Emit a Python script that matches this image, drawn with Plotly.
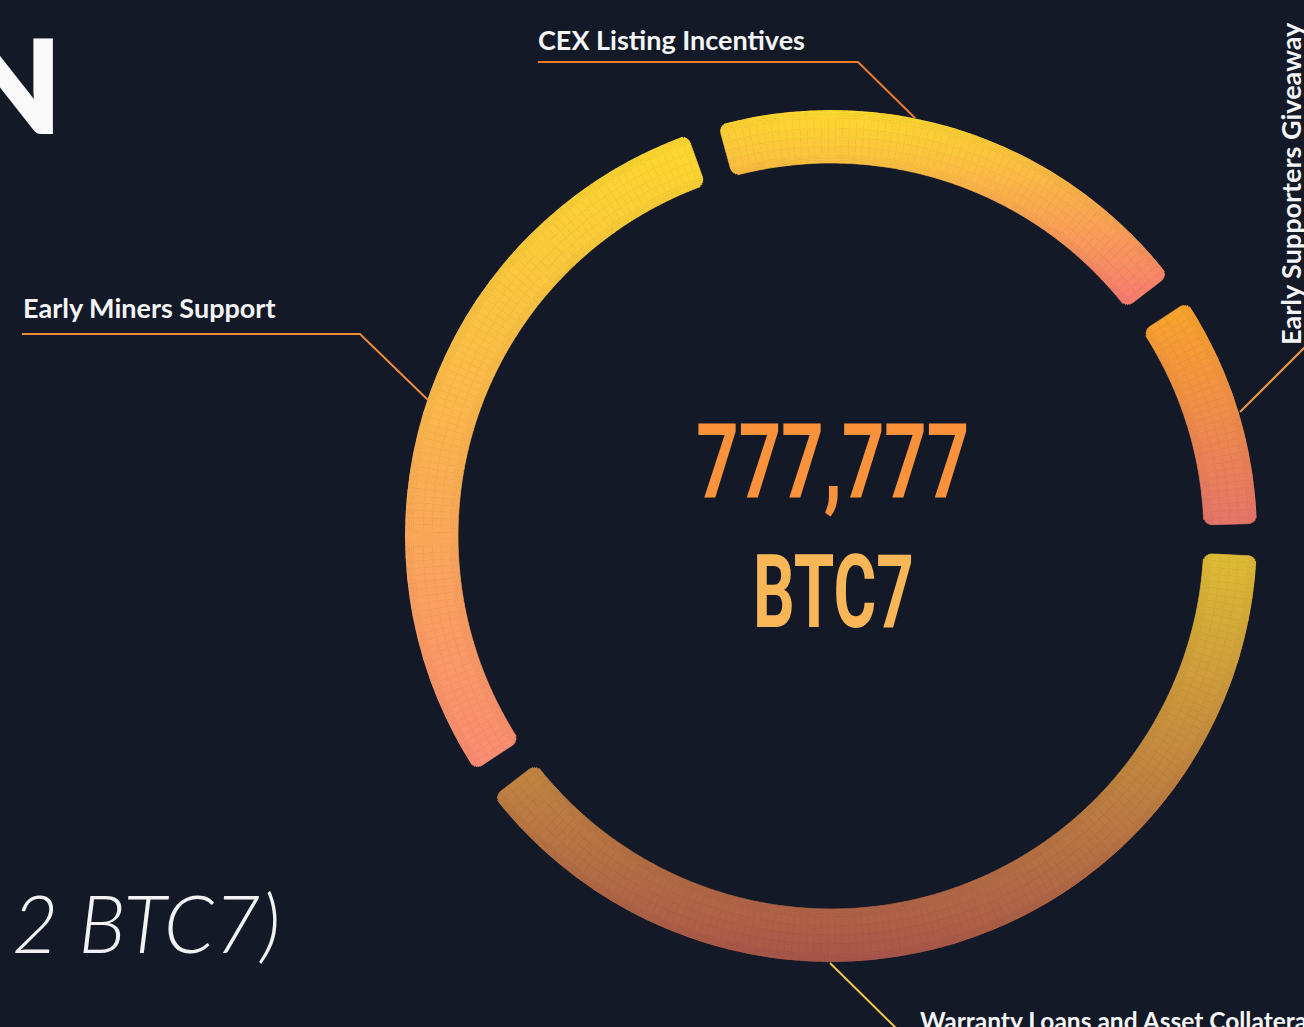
import numpy as np
import plotly.graph_objects as go

# ---------------- data ----------------
categories = ["CEX Listing Incentives", "Early Supporters Giveaway",
              "Warranty Loans and Asset Collateral", "Early Miners Support"]
shares = [20, 10, 40, 30]
grad_top = ["#FCD92F", "#F9A52A", "#DEBB36", "#FBD82F"]
grad_bottom = ["#F77971", "#E4746A", "#A8564A", "#F98B73"]
total_supply = "777,777"
token = "BTC7"

# ---------------- geometry / style ----------------
W, H = 1304, 1027
CX, CY = 831, 536
R_OUT, R_IN = 426, 373
START = -17.5
GAP = 4.4
STEP = 1.0
CORNER = 9.0
# radial sub-layers (px from the inner edge): fine near the edges for rounded corners
LAYER_EDGES = [0, 1.5, 3, 4.5, 6, 8, 17, 26, 35, 45, 47, 48.5, 50, 51.5, 53]
BG = "#131926"


def hex2rgb(h):
    h = h.lstrip("#")
    return np.array([int(h[i:i + 2], 16) for i in (0, 2, 4)], dtype=float)


def mix(c0, c1, t):
    c = hex2rgb(c0) * (1 - t) + hex2rgb(c1) * t
    return "rgb(%d,%d,%d)" % tuple(np.round(c).astype(int))


def py(a, r):
    return CY - r * np.cos(np.radians(a))


thick = R_OUT - R_IN
thetas, rs, bases, widths, colors, hov = [], [], [], [], [], []
total = float(sum(shares))
cum = 0.0
for name, v, ct, cb in zip(categories, shares, grad_top, grad_bottom):
    a0 = START + cum / total * 360 + GAP / 2
    a1 = START + (cum + v) / total * 360 - GAP / 2
    cum += v
    samp = np.linspace(a0, a1, 200)
    ys = np.concatenate([py(samp, R_IN), py(samp, R_OUT)])
    ymin, ymax = ys.min(), ys.max()
    for lo, hi in zip(LAYER_EDGES[:-1], LAYER_EDGES[1:]):
        rmid = R_IN + (lo + hi) / 2
        d = min((lo + hi) / 2, thick - (lo + hi) / 2)  # distance to nearest edge
        trim_px = CORNER - np.sqrt(max(CORNER ** 2 - (CORNER - d) ** 2, 0)) if d < CORNER else 0.0
        trim = np.degrees(trim_px / rmid)
        b0, b1 = a0 + trim, a1 - trim
        n = int(np.ceil((b1 - b0) / STEP))
        edges = np.linspace(b0, b1, n + 1)
        for e0, e1 in zip(edges[:-1], edges[1:]):
            am = (e0 + e1) / 2
            t = (py(am, rmid) - ymin) / (ymax - ymin)
            t = min(max(t, 0), 1)
            thetas.append(am)
            widths.append(e1 - e0)
            rs.append(hi - lo)
            bases.append(R_IN + lo)
            colors.append(mix(ct, cb, t))
            hov.append("%s: %d%%" % (name, v))

fig = go.Figure()
fig.add_trace(go.Barpolar(
    r=rs, base=bases, theta=thetas, width=widths,
    marker=dict(color=colors, line=dict(color=colors, width=0.7)),
    hovertext=hov, hoverinfo="text", showlegend=False,
))

fig.update_layout(
    width=W, height=H,
    margin=dict(l=0, r=0, t=0, b=0),
    paper_bgcolor=BG, plot_bgcolor=BG,
    polar=dict(
        domain=dict(x=[(CX - R_OUT) / W, (CX + R_OUT) / W],
                    y=[1 - (CY + R_OUT) / H, 1 - (CY - R_OUT) / H]),
        bgcolor="rgba(0,0,0,0)",
        radialaxis=dict(visible=False, range=[0, R_OUT]),
        angularaxis=dict(visible=False, rotation=90, direction="clockwise"),
        barmode="overlay",
    ),
)


def P(x, y):
    return x / W, 1 - y / H


def path(points, color):
    d = ""
    for i, (x, y) in enumerate(points):
        px_, py_ = P(x, y)
        d += ("M" if i == 0 else "L") + " %f %f " % (px_, py_)
    fig.add_shape(type="path", path=d, xref="paper", yref="paper",
                  line=dict(color=color, width=2))


path([(538, 62), (858, 62), (915, 118)], "#EF7B2D")
path([(22, 334), (360, 334), (428, 400)], "#F08B3A")
path([(1240, 412), (1310, 342)], "#F39637")
path([(830, 963), (900, 1032)], "#F5C646")

label_font = dict(family="Lato", size=27, color="#F5F5F7", weight=700)


def ann(text, x, y, xa="left", ya="middle", font=None, angle=0):
    px_, py_ = P(x, y)
    fig.add_annotation(text=text, x=px_, y=py_, xref="paper", yref="paper",
                       xanchor=xa, yanchor=ya, showarrow=False,
                       font=font or label_font, textangle=angle)


ann(categories[0], 536, 40)
ann(categories[3], 21, 307)
ann(categories[1], 1290, 184, xa="center", ya="middle", angle=-90)
ann(categories[2], 918, 1020, font=dict(family="Lato", size=24.5, color="#F5F5F7", weight=700))

center_font = "Roboto"
ann(total_supply, 833, 462, xa="center", ya="middle",
    font=dict(family=center_font, size=104, color="#F9923B", weight="bold"))
ann(token, 833, 592, xa="center", ya="middle",
    font=dict(family=center_font, size=102, color="#F9B657", weight="bold"))

# cropped page text at the left edge
ann("N", 64, 84, xa="right", ya="middle",
    font=dict(family="Lato", size=130, color="#FAFAFA", weight=800))
ann("2 BTC7)", 282, 922, xa="right", ya="middle",
    font=dict(family="Lato", size=80, color="#F2F2F2", weight=300, style="italic"))

# page styling + condensed look of the centre figure (SVG textLength)
post = """
document.body.style.margin='0';
document.body.style.background='%s';
var want = {'%s': 273, '%s': 161};
document.querySelectorAll('text.annotation-text').forEach(function(t){
  var s = t.textContent;
  if (want.hasOwnProperty(s)) {
    t.setAttribute('textLength', want[s]);
    t.setAttribute('lengthAdjust', 'spacingAndGlyphs');
  }
});
""" % (BG, total_supply, token)

fig.write_html("out.html", config=dict(displayModeBar=False), post_script=post)
